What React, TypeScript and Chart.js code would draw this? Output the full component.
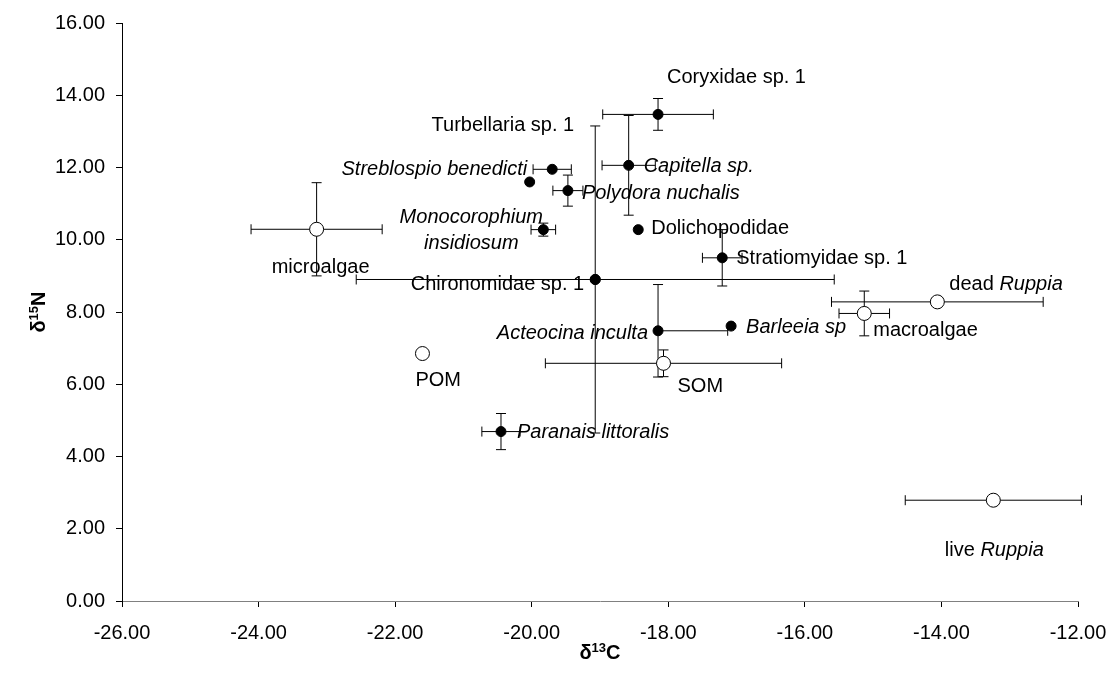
import React, { useEffect, useRef } from "react";
import { Chart, registerables } from "chart.js";

Chart.register(...registerables);

// ---------- data ----------
const consumerNames = [
  "Coryxidae sp. 1",
  "*Capitella sp.*",
  "*Streblospio benedicti*",
  "",
  "*Polydora nuchalis*",
  "*Monocorophium*\n*insidiosum*",
  "Dolichopodidae",
  "Stratiomyidae sp. 1",
  "Chironomidae sp. 1",
  "Turbellaria sp. 1",
  "*Acteocina inculta*",
  "*Barleeia sp*",
  "*Paranais littoralis*",
];
const consumerX = [-18.15, -18.58, -19.7, -20.03, -19.47, -19.83, -18.44, -17.21, -19.07, -19.07, -18.15, -17.08, -20.45];
const consumerY = [13.47, 12.06, 11.95, 11.6, 11.36, 10.28, 10.28, 9.5, 8.9, 8.9, 7.48, 7.61, 4.69];
const consumerXErrLow = [0.81, 0.39, 0.28, 0, 0.22, 0.18, 0, 0.29, 3.5, 0, 0, 0, 0.28];
const consumerXErrHigh = [0.81, 0.39, 0.28, 0, 0.22, 0.18, 0, 0.29, 3.5, 0, 1.02, 0, 0.28];
const consumerYErr = [0.44, 1.38, 0, 0, 0.43, 0.18, 0, 0.78, 0, 4.25, 1.28, 0, 0.5];

const sourceNames = ["microalgae", "POM", "SOM", "dead *Ruppia*", "macroalgae", "live *Ruppia*"];
const sourceX = [-23.15, -21.6, -18.07, -14.06, -15.13, -13.24];
const sourceY = [10.29, 6.85, 6.58, 8.28, 7.96, 2.79];
const sourceXErr = [0.96, 0, 1.73, 1.55, 0.37, 1.29];
const sourceYErr = [1.29, 0, 0.37, 0, 0.62, 0];

const xTicksMin = -26;
const xTicksMax = -12;
const yTicksMin = 0;
const yTicksMax = 16;

// ---------- label placement (pixel offsets from the point, style only) ----------
const consumerLabelPos: ([number, number, string] | null)[] = [
  [9, -37, "left"],
  [15, 1, "left"],
  [-25, 0, "right"],
  null,
  [14, 3, "left"],
  [-72, 1, "center"],
  [13, -1, "left"],
  [14, 1, "left"],
  [-11, 5, "right"],
  [-21, -154, "right"],
  [-10, 3, "right"],
  [15, 1, "left"],
  [16, 1, "left"],
];
const sourceLabelPos: [number, number, string][] = [
  [4, 38, "center"],
  [-7, 27, "left"],
  [14, 23, "left"],
  [12, -17, "left"],
  [9, 17, "left"],
  [1, 50, "center"],
];

const FAMILY = "'Liberation Sans', Arial, Helvetica, sans-serif";
const LABEL_SIZE = 20;

function drawRich(ctx: CanvasRenderingContext2D, text: string, x: number, y: number, align: string) {
  const lines = text.split("\n");
  const lh = 26;
  lines.forEach((line, li) => {
    const parts = line.split("*");
    const segs = parts.map((t, i) => ({ t, it: i % 2 === 1, w: 0 })).filter((s) => s.t.length > 0);
    let total = 0;
    segs.forEach((s) => {
      ctx.font = `${s.it ? "italic " : ""}${LABEL_SIZE}px ${FAMILY}`;
      s.w = ctx.measureText(s.t).width;
      total += s.w;
    });
    let sx = align === "left" ? x : align === "right" ? x - total : x - total / 2;
    const ly = y + (li - (lines.length - 1) / 2) * lh;
    segs.forEach((s) => {
      ctx.font = `${s.it ? "italic " : ""}${LABEL_SIZE}px ${FAMILY}`;
      ctx.textAlign = "left";
      ctx.textBaseline = "middle";
      ctx.fillStyle = "#000";
      ctx.fillText(s.t, sx, ly);
      sx += s.w;
    });
  });
}

const errorBarPlugin = {
  id: "errorBars",
  beforeDatasetsDraw(chart: any) {
    const { ctx, scales } = chart;
    const xs = scales.x;
    const ys = scales.y;
    const cap = 5;
    ctx.save();
    ctx.strokeStyle = "#000";
    ctx.lineWidth = 1;
    chart.data.datasets.forEach((ds: any) => {
      ds.data.forEach((p: any, i: number) => {
        const px = xs.getPixelForValue(p.x);
        const py = ys.getPixelForValue(p.y);
        const xl = ds.xErrLow[i];
        const xh = ds.xErrHigh[i];
        const ye = ds.yErr[i];
        if (xl > 0 || xh > 0) {
          const x1 = xs.getPixelForValue(p.x - xl);
          const x2 = xs.getPixelForValue(p.x + xh);
          ctx.beginPath();
          ctx.moveTo(x1, py);
          ctx.lineTo(x2, py);
          if (xl > 0) {
            ctx.moveTo(x1, py - cap);
            ctx.lineTo(x1, py + cap);
          }
          if (xh > 0) {
            ctx.moveTo(x2, py - cap);
            ctx.lineTo(x2, py + cap);
          }
          ctx.stroke();
        }
        if (ye > 0) {
          const y1 = ys.getPixelForValue(p.y + ye);
          const y2 = ys.getPixelForValue(p.y - ye);
          ctx.beginPath();
          ctx.moveTo(px, y1);
          ctx.lineTo(px, y2);
          ctx.moveTo(px - cap, y1);
          ctx.lineTo(px + cap, y1);
          ctx.moveTo(px - cap, y2);
          ctx.lineTo(px + cap, y2);
          ctx.stroke();
        }
      });
    });
    ctx.restore();
  },
};

const labelPlugin = {
  id: "pointLabels",
  afterDatasetsDraw(chart: any) {
    const { ctx } = chart;
    ctx.save();
    chart.data.datasets.forEach((ds: any, di: number) => {
      const meta = chart.getDatasetMeta(di);
      meta.data.forEach((el: any, i: number) => {
        const name = ds.names[i];
        const pos = ds.labelPos[i];
        if (!name || !pos) return;
        drawRich(ctx, name, el.x + pos[0], el.y + pos[1], pos[2]);
      });
    });
    ctx.restore();
  },
};

function drawSupTitle(ctx: CanvasRenderingContext2D, base: string, sup: string, tail: string, x: number, y: number) {
  const big = `bold 20px ${FAMILY}`;
  const small = `bold 13px ${FAMILY}`;
  ctx.font = big;
  const w1 = ctx.measureText(base).width;
  const w3 = ctx.measureText(tail).width;
  ctx.font = small;
  const w2 = ctx.measureText(sup).width;
  let sx = x - (w1 + w2 + w3) / 2;
  ctx.fillStyle = "#000";
  ctx.textAlign = "left";
  ctx.textBaseline = "alphabetic";
  const baseY = y + 7;
  ctx.font = big;
  ctx.fillText(base, sx, baseY);
  sx += w1;
  ctx.font = small;
  ctx.fillText(sup, sx, baseY - 7);
  sx += w2;
  ctx.font = big;
  ctx.fillText(tail, sx, baseY);
}

const axisTitlePlugin = {
  id: "axisTitles",
  afterDraw(chart: any) {
    const { ctx, chartArea } = chart;
    ctx.save();
    drawSupTitle(ctx, "δ", "13", "C", (chartArea.left + chartArea.right) / 2, 652);
    ctx.translate(38, (chartArea.top + chartArea.bottom) / 2);
    ctx.rotate(-Math.PI / 2);
    drawSupTitle(ctx, "δ", "15", "N", 0, 0);
    ctx.restore();
  },
};

export default function App() {
  const ref = useRef<HTMLCanvasElement | null>(null);
  useEffect(() => {
    if (!ref.current) return;
    const tickFont = { family: FAMILY, size: 20 };
    const chart = new Chart(ref.current, {
      type: "scatter",
      data: {
        datasets: [
          {
            label: "consumers",
            data: consumerX.map((x, i) => ({ x, y: consumerY[i] })),
            backgroundColor: "#000",
            borderColor: "#000",
            borderWidth: 1,
            pointRadius: 5,
            names: consumerNames,
            labelPos: consumerLabelPos,
            xErrLow: consumerXErrLow,
            xErrHigh: consumerXErrHigh,
            yErr: consumerYErr,
          } as any,
          {
            label: "sources",
            data: sourceX.map((x, i) => ({ x, y: sourceY[i] })),
            backgroundColor: "#fff",
            borderColor: "#000",
            borderWidth: 1,
            pointRadius: 7,
            names: sourceNames,
            labelPos: sourceLabelPos,
            xErrLow: sourceXErr,
            xErrHigh: sourceXErr,
            yErr: sourceYErr,
          } as any,
        ],
      },
      options: {
        responsive: false,
        animation: false,
        layout: { padding: { top: 23, right: 34, left: 0, bottom: 0 } },
        plugins: { legend: { display: false }, tooltip: { enabled: false } },
        events: [],
        scales: {
          x: {
            type: "linear",
            min: xTicksMin,
            max: xTicksMax,
            afterFit: (s: any) => {
              s.height = 84;
              s.paddingLeft = 0;
              s.paddingRight = 0;
            },
            ticks: {
              stepSize: 2,
              color: "#000",
              font: tickFont,
              padding: 14,
              maxRotation: 0,
              callback: (v: any) => Number(v).toFixed(2),
            },
            grid: { drawOnChartArea: false, drawTicks: true, tickLength: 6, color: "#000" },
            border: { color: "#808080", width: 1 },
          },
          y: {
            type: "linear",
            min: yTicksMin,
            max: yTicksMax,
            afterFit: (s: any) => {
              s.width = 122;
              s.paddingTop = 0;
              s.paddingBottom = 0;
            },
            ticks: {
              stepSize: 2,
              color: "#000",
              font: tickFont,
              padding: 11,
              callback: (v: any) => Number(v).toFixed(2),
            },
            grid: { drawOnChartArea: false, drawTicks: true, tickLength: 6, color: "#000" },
            border: { color: "#000", width: 1 },
          },
        },
      } as any,
      plugins: [errorBarPlugin, labelPlugin, axisTitlePlugin],
    });
    return () => chart.destroy();
  }, []);
  return (
    <div style={{ position: "absolute", left: 0, top: 0, width: 1112, height: 685, background: "#fff" }}>
      <canvas ref={ref} width={1112} height={685} style={{ display: "block" }} />
    </div>
  );
}
